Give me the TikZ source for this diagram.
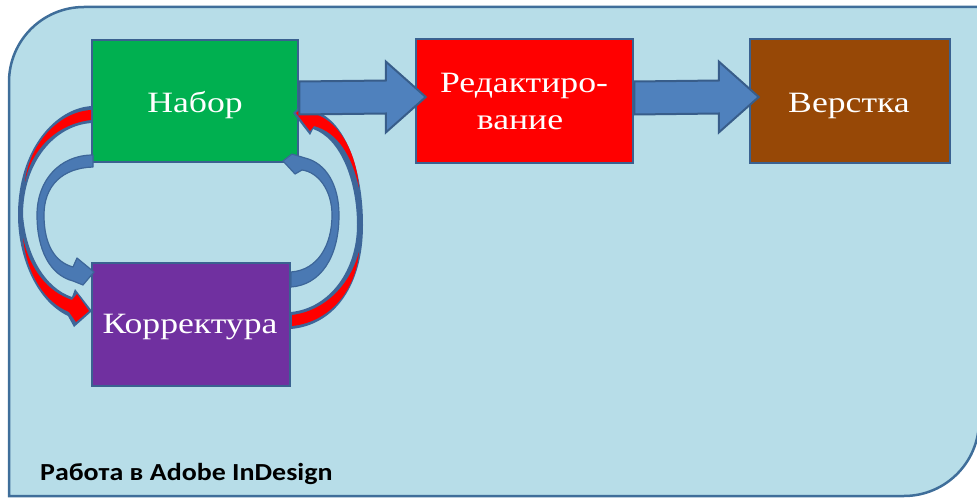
\documentclass[tikz,border=0pt]{standalone}
\usepackage{fontspec}
\usepackage{graphicx}
\setmainfont{Liberation Serif}
\newfontfamily\calib{Carlito}
\usetikzlibrary{calc}
\definecolor{bgfill}{HTML}{B7DDE8}
\definecolor{bgedge}{HTML}{3F6E9A}
\definecolor{boxedge}{HTML}{3A6190}
\definecolor{cgreen}{HTML}{00B050}
\definecolor{cpurple}{HTML}{7030A0}
\definecolor{cred}{HTML}{FF0000}
\definecolor{cbrown}{HTML}{974806}
\definecolor{abl}{HTML}{4F81BD}
\definecolor{abledge}{HTML}{385D8A}
\definecolor{cdark}{HTML}{3D6699}
\definecolor{cmid}{HTML}{4A79B3}
\newcommand\BlockArrow[2]{%
  \draw[bigarrow] let \p1=(#1), \p2=(#2) in
    (\x1,\y1+16.5pt) -- (\x2-40pt,\y2+16.5pt) -- (\x2-40pt,\y2+35.5pt) -- (\x2,\y2)
    -- (\x2-40pt,\y2-35.5pt) -- (\x2-40pt,\y2-16.5pt) -- (\x1,\y1-16.5pt) -- cycle;}
\begin{document}
\begin{tikzpicture}[x=1pt,y=-1pt,
  box/.style={draw=boxedge,line width=2.5pt,inner sep=0pt},
  lbl/.style={text=white,font=\fontsize{29.5}{35}\selectfont,inner sep=0pt,anchor=base},
  bigarrow/.style={fill=abl,draw=abledge,line width=2pt,line join=miter},
  curvedk/.style={fill=cdark},
  curvebl/.style={fill=cmid,draw=cdark,line width=1.2pt,line join=round},
  curvered/.style={fill=cred}]
\useasboundingbox (0,0) rectangle (977,500);
% background panel
\draw[fill=bgfill,draw=bgedge,line width=2.5pt]
  (9,496) -- (9,82) arc[start angle=180,end angle=90,radius=75pt]
  -- (979,7) -- (979,421) arc[start angle=0,end angle=-90,radius=75pt] -- cycle;
% boxes
\node[box,fill=cgreen,minimum width=206pt,minimum height=122pt] (nabor) at (195,101) {};
\node[box,fill=cpurple,minimum width=198pt,minimum height=123pt] (korr) at (191,324.5) {};
\node[box,fill=cred,minimum width=217pt,minimum height=124pt] (redakt) at (524.5,101) {};
\node[box,fill=cbrown,minimum width=200pt,minimum height=124pt] (verstka) at (850,101) {};
% labels
\node[lbl] (tnabor) at (195,113) {\scalebox{1.21}[1]{Набор}};
\node[lbl] (tkorr) at (190,333) {\scalebox{1.21}[1]{Корректура}};
\node[lbl] (tred1) at (524,93) {\scalebox{1.21}[1]{Редактиро-}};
\node[lbl] (tred2) at (520,130) {\scalebox{1.21}[1]{вание}};
\node[lbl] (tvers) at (849,113) {\scalebox{1.21}[1]{Верстка}};
\node[anchor=base west,inner sep=0pt,font=\calib\bfseries\fontsize{24.5}{28}\selectfont] (caption) at (40,480) {\scalebox{1.14}[1]{Работа в Adobe InDesign}};
% curved arrows, left side
\fill[curvedk] (92,106) .. controls (55,108) and (18,150) .. (18,215) .. controls (18,255) and (35,300) .. (68,316) -- (74,327) -- (92,311) -- (75,289) -- (72,297) .. controls (45,288) and (26,255) .. (23,215) .. controls (23,162) and (55,125) .. (92,123) -- cycle;
\fill[curvered] (91,110) .. controls (58,112) and (29,145) .. (25,182) .. controls (31,150) and (56,124) .. (91,120) -- cycle;
\fill[curvered] (23,238) .. controls (27,275) and (45,302) .. (69,312) -- (76,322) -- (89,311) -- (77,294) -- (72,300) .. controls (48,292) and (30,270) .. (23,238) -- cycle;
\filldraw[curvebl] (93,155) .. controls (60,155) and (37,180) .. (37,215) .. controls (37,250) and (50,275) .. (73,281) -- (83,285) -- (94,272) -- (77,258) -- (73,267) .. controls (55,262) and (44,245) .. (44,215) .. controls (44,186) and (62,168) .. (93,167) -- cycle;
% curved arrows, right side
\fill[curvedk] (291,312) .. controls (330,308) and (357,270) .. (357,225) .. controls (357,180) and (340,138) .. (313,129) -- (310,135) -- (293,113) -- (303,103) -- (312,110) .. controls (345,118) and (363,170) .. (363,225) .. controls (363,285) and (335,325) .. (291,329) -- cycle;
\fill[curvered] (292,315) .. controls (325,311) and (350,285) .. (359,252) .. controls (356,290) and (330,322) .. (292,326) -- cycle;
\fill[curvered] (312,113) .. controls (338,120) and (356,150) .. (359,188) .. controls (352,155) and (337,132) .. (314,126) -- (310,131) -- (296,113) -- (304,106) -- cycle;
\filldraw[curvebl] (291,272) .. controls (318,270) and (332,245) .. (332,215) .. controls (332,190) and (318,172) .. (302,170) -- (295,174) -- (283,161) -- (292,154) -- (305,158) .. controls (326,163) and (339,185) .. (339,215) .. controls (339,258) and (320,285) .. (291,287) -- cycle;
% block arrows
\coordinate (a1s) at ($(nabor.east)+(0,-3)$);
\coordinate (a1t) at ($(redakt.west)+(11,-4)$);
\coordinate (a2s) at ($(redakt.east)+(0,-3)$);
\coordinate (a2t) at ($(verstka.west)+(10,-4)$);
\BlockArrow{a1s}{a1t}
\BlockArrow{a2s}{a2t}
\end{tikzpicture}
\end{document}
